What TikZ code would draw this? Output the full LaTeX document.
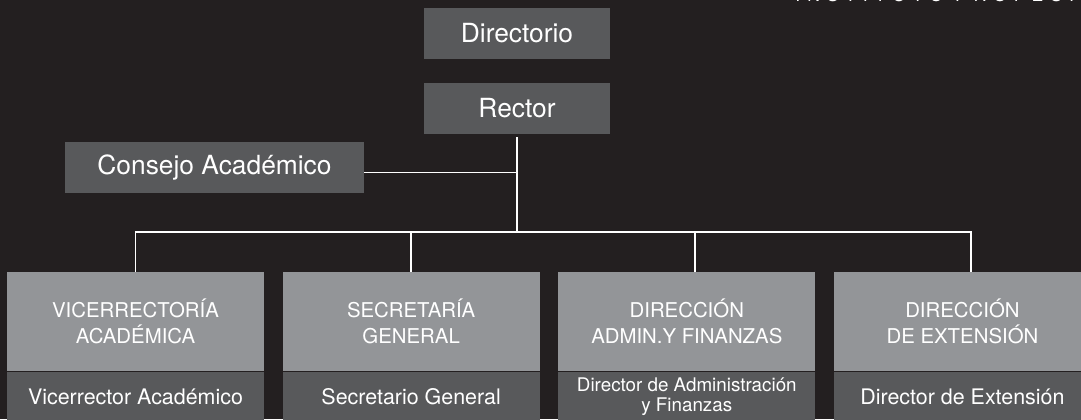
\documentclass[tikz,border=0pt]{standalone}
\usepackage{fontspec}
\setmainfont{TeX Gyre Heros}
\newfontfamily\espaciada[LetterSpace=40]{TeX Gyre Heros}
\usetikzlibrary{positioning}
\definecolor{fondo}{HTML}{231F20}
\definecolor{grisosc}{HTML}{58595B}
\definecolor{grisclaro}{HTML}{939598}

\begin{document}
\begin{tikzpicture}[
        x=0.02cm, y=-0.02cm,
        node distance=0.36cm,
        every node/.style={text=white, inner sep=0pt},
        cargo/.style={fill=grisosc, minimum width=3.72cm, minimum height=1.01cm, font=\fontsize{15}{18}\selectfont},
        unidad/.style={fill=grisclaro, minimum width=5.14cm, minimum height=1.98cm, align=center, font=\fontsize{11.6}{14.6}\selectfont},
        titular/.style={fill=grisosc, minimum width=5.14cm, minimum height=1cm, align=center, font=\fontsize{12.2}{14}\selectfont},
        linea/.style={draw=white, line width=1.1pt}
    ]

        % Fondo
        \fill[fondo] (0,0) rectangle (1081,419);
        \useasboundingbox (0,0) rectangle (1081,419);

        % Encabezado (cortado)
        \node[anchor=base west, font=\espaciada\fontsize{10}{12}\selectfont] (inst) at (795,1.5) {INSTITUTO PROFESIONAL};

        % Autoridades
        \node[cargo] (dir) at (517,33.5) {Directorio};
        \node[cargo] (rec) at (517,108.5) {Rector};
        \node[cargo, minimum width=5.98cm] (cons) at (214.5,167.5) {Consejo Académico};

        % Unidades
        \node[unidad] (vra) at (135.5,321.5) {VICERRECTORÍA\\ACADÉMICA};
        \node[unidad, right=of vra] (sg) {SECRETARÍA\\GENERAL};
        \node[unidad, right=of sg] (daf) {DIRECCIÓN\\ADMIN.Y FINANZAS};
        \node[unidad, right=of daf] (dex) {DIRECCIÓN\\DE EXTENSIÓN};

        % Titulares
        \node[titular, below=0pt of vra] (vra2) {Vicerrector Académico};
        \node[titular, below=0pt of sg] (sg2) {Secretario General};
        \node[titular, below=0pt of daf, font=\fontsize{10.7}{11.5}\selectfont] (daf2) {Director de Administración\\y Finanzas};
        \node[titular, below=0pt of dex] (dex2) {Director de Extensión};

        % Lineas
        \coordinate (barra) at (517,232);
        \draw[linea] ([yshift=-0.06cm]rec.south) -- (barra);
        \draw[linea] ([yshift=-0.1cm]cons.east) -- ([yshift=-0.1cm]cons.east -| barra);
        \draw[linea] (vra.north) |- (barra) -| ([xshift=0.17cm]dex.north);
        \draw[linea] (sg.north) -- (sg.north |- barra);
        \draw[linea] ([xshift=0.17cm]daf.north) -- ([xshift=0.17cm]daf.north |- barra);

    \end{tikzpicture}
\end{document}
